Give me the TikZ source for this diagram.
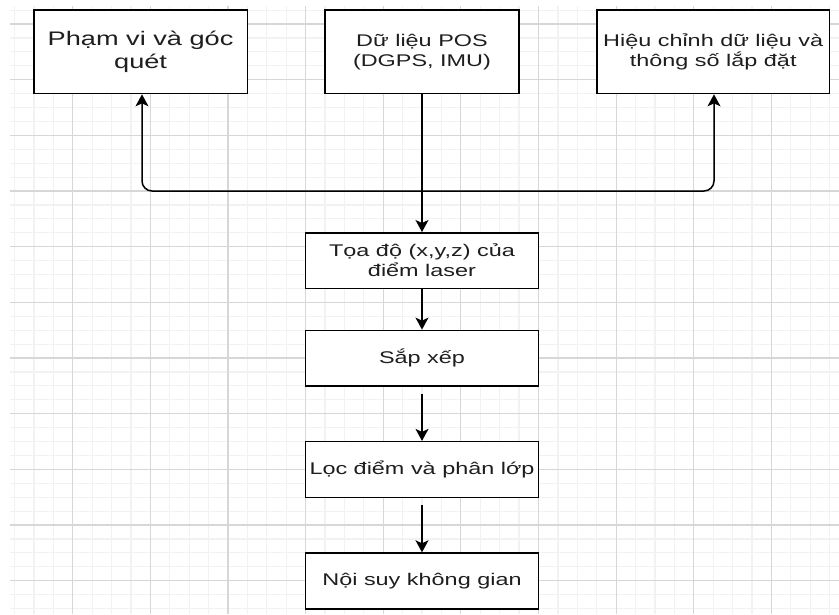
\documentclass[tikz,border=0pt]{standalone}
\usepackage{fontspec}
\setmainfont[FakeStretch=1.386]{Liberation Sans}
\usetikzlibrary{arrows.meta}
\definecolor{gridminor}{RGB}{242,242,242}
\definecolor{gridmajor}{RGB}{215,215,215}
\definecolor{txt}{RGB}{30,30,30}
\begin{document}
\begin{tikzpicture}[x=1pt,y=-1pt,
  box/.style={draw=black, line width=1.5pt, fill=white, text=txt, align=center,
    inner sep=0pt, font=\fontsize{16.9}{20}\selectfont},
  bigbox/.style={box, font=\fontsize{19.6}{23.5}\selectfont},
  arr/.style={draw=black, line width=1.5pt, -{Stealth[length=12pt,width=13pt,inset=3pt]}}]
\useasboundingbox (0,0) rectangle (839,614);
% grid
\foreach \i in {0,...,42} {\draw[gridminor, line width=1.2pt] ({14.5+19.4075*\i},6) -- ({14.5+19.4075*\i},614);}
\foreach \i in {0,...,43} {\draw[gridminor, line width=1.2pt] (10,{10.1+13.9175*\i}) -- (839,{10.1+13.9175*\i});}
\foreach \i in {0,...,9} {\draw[gridmajor, line width=1.1pt] ({72.7+77.63*\i},6) -- ({72.7+77.63*\i},614);}
\foreach \i in {0,...,10} {\draw[gridmajor, line width=1.1pt] (10,{24+55.67*\i}) -- (839,{24+55.67*\i});}
% boxes
\node[bigbox, minimum width=213.4pt, minimum height=83.5pt] (phamvi) at (140.6,51.85) {Phạm vi và góc\\quét};
\node[box, minimum width=194pt, minimum height=83.5pt] (pos) at (422,51.85) {Dữ liệu POS\\(DGPS, IMU)};
\node[box, minimum width=232.9pt, minimum height=83.5pt] (hieuchinh) at (713.2,51.85) {Hiệu chỉnh dữ liệu và\\thông số lắp đặt};
\node[box, minimum width=232.9pt, minimum height=55.7pt] (toado) at (422,260.6) {Tọa độ (x,y,z) của\\điểm laser};
\node[box, minimum width=232.9pt, minimum height=55.7pt] (sapxep) at (422,358.2) {Sắp xếp};
\node[box, minimum width=232.9pt, minimum height=55.7pt] (loc) at (422,469.5) {Lọc điểm và phân lớp};
\node[box, minimum width=232.9pt, minimum height=55.7pt] (noisuy) at (422,580.9) {Nội suy không gian};
% connectors
\coordinate (j) at (422,191);
\draw[arr] (pos) -- (toado);
\draw[arr, rounded corners=10pt] (j) -| ([xshift=1.4pt]phamvi.south);
\draw[arr, rounded corners=10pt] (j) -| ([xshift=0.8pt]hieuchinh.south);
\draw[arr] (toado) -- (sapxep);
\draw[arr] ([yshift=-7pt]sapxep.south) -- (loc);
\draw[arr] ([yshift=-7pt]loc.south) -- (noisuy);
\end{tikzpicture}
\end{document}
